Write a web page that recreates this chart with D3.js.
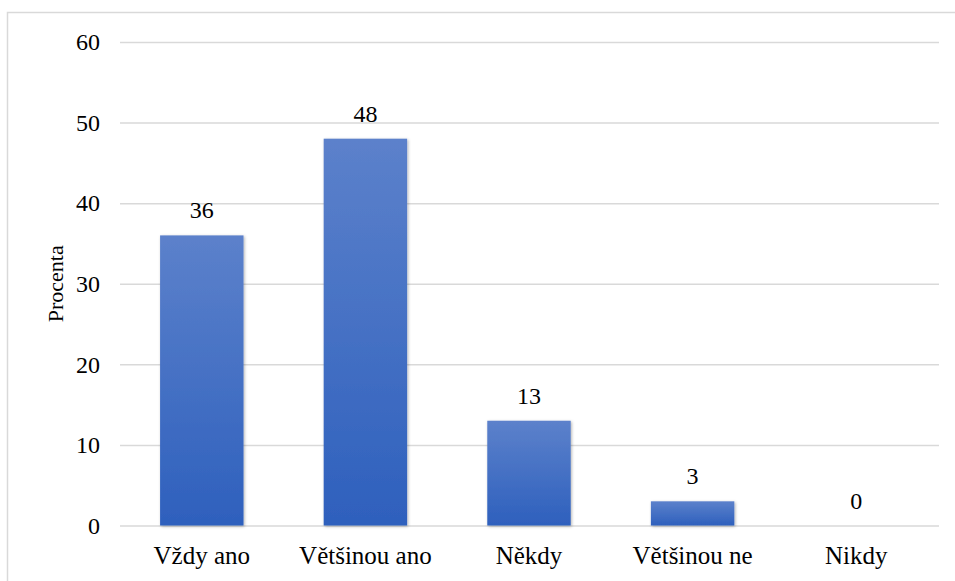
<!DOCTYPE html>
<html>
<head>
<meta charset="utf-8">
<script src="https://cdn.jsdelivr.net/npm/d3@7"></script>
<style>
  html, body { margin: 0; padding: 0; background: #fff; }
  svg { display: block; }
</style>
</head>
<body>
<svg id="chart" width="955" height="581"></svg>
<script>
// Odpovědi respondentů (procenta)
const categories = ["Vždy ano", "Většinou ano", "Někdy", "Většinou ne", "Nikdy"];
const values = [36, 48, 13, 3, 0];
const yTicks = [0, 10, 20, 30, 40, 50, 60];
const yTitle = "Procenta";

const FONT = "'Liberation Serif', 'DejaVu Serif', serif";
const W = 955, H = 581;
const margin = { left: 120, right: 17, top: 42, bottom: 55.5 };
const svg = d3.select("#chart");

// outer frame
svg.append("rect")
  .attr("x", 7.5).attr("y", 12.5)
  .attr("width", W + 10).attr("height", H + 10)
  .attr("fill", "none").attr("stroke", "#d9d9d9").attr("stroke-width", 1.5);

const x = d3.scaleBand()
  .domain(categories)
  .range([margin.left, W - margin.right])
  .paddingInner(0.49).paddingOuter(0.245);

const y = d3.scaleLinear()
  .domain([0, 60])
  .range([H - margin.bottom, margin.top]);

// bar gradient and soft shadow
const defs = svg.append("defs");
const grad = defs.append("linearGradient")
  .attr("id", "barGrad").attr("x1", 0).attr("y1", 0).attr("x2", 0).attr("y2", 1);
grad.append("stop").attr("offset", "0%").attr("stop-color", "#5c81cb");
grad.append("stop").attr("offset", "100%").attr("stop-color", "#2e60bd");
const shadow = defs.append("filter").attr("id", "shadow")
  .attr("x", "-20%").attr("y", "-20%").attr("width", "140%").attr("height", "140%");
shadow.append("feDropShadow")
  .attr("dx", 1).attr("dy", 1).attr("stdDeviation", 1.5)
  .attr("flood-color", "#000").attr("flood-opacity", 0.3);

// gridlines + y axis labels
const yAxis = d3.axisLeft(y).tickValues(yTicks)
  .tickSize(-(W - margin.right - margin.left + 1))
  .tickPadding(20)
  .tickFormat(d3.format("d"));
const gy = svg.append("g")
  .attr("transform", `translate(${margin.left},0)`)
  .call(yAxis);
gy.select(".domain").remove();
gy.selectAll(".tick line").attr("stroke", "#d9d9d9").attr("stroke-width", 1.5);
gy.selectAll(".tick text")
  .style("font-family", FONT)
  .style("font-size", "24px")
  .attr("fill", "#000");

// bars
svg.append("g").selectAll("rect")
  .data(values)
  .join("rect")
  .attr("x", (d, i) => x(categories[i]))
  .attr("y", d => y(d))
  .attr("width", x.bandwidth())
  .attr("height", d => y(0) - y(d))
  .attr("fill", "url(#barGrad)")
  .attr("filter", "url(#shadow)");

// value labels
svg.append("g").selectAll("text")
  .data(values)
  .join("text")
  .attr("x", (d, i) => x(categories[i]) + x.bandwidth() / 2)
  .attr("y", d => y(d) - 17)
  .attr("text-anchor", "middle")
  .style("font-family", FONT)
  .style("font-size", "24px")
  .attr("fill", "#000")
  .text(d => d3.format("d")(d));

// category axis
const xAxis = d3.axisBottom(x).tickSize(0).tickPadding(21);
const gx = svg.append("g")
  .attr("transform", `translate(0,${y(0)})`)
  .call(xAxis);
gx.select(".domain").remove();
gx.selectAll(".tick text")
  .style("font-family", FONT)
  .style("font-size", "25px")
  .attr("fill", "#000");

// y axis title
svg.append("text")
  .attr("transform", `translate(63,${(y(0) + y(60)) / 2}) rotate(-90)`)
  .attr("text-anchor", "middle")
  .style("font-family", FONT)
  .style("font-size", "22px")
  .attr("fill", "#000")
  .text(yTitle);
</script>
</body>
</html>
